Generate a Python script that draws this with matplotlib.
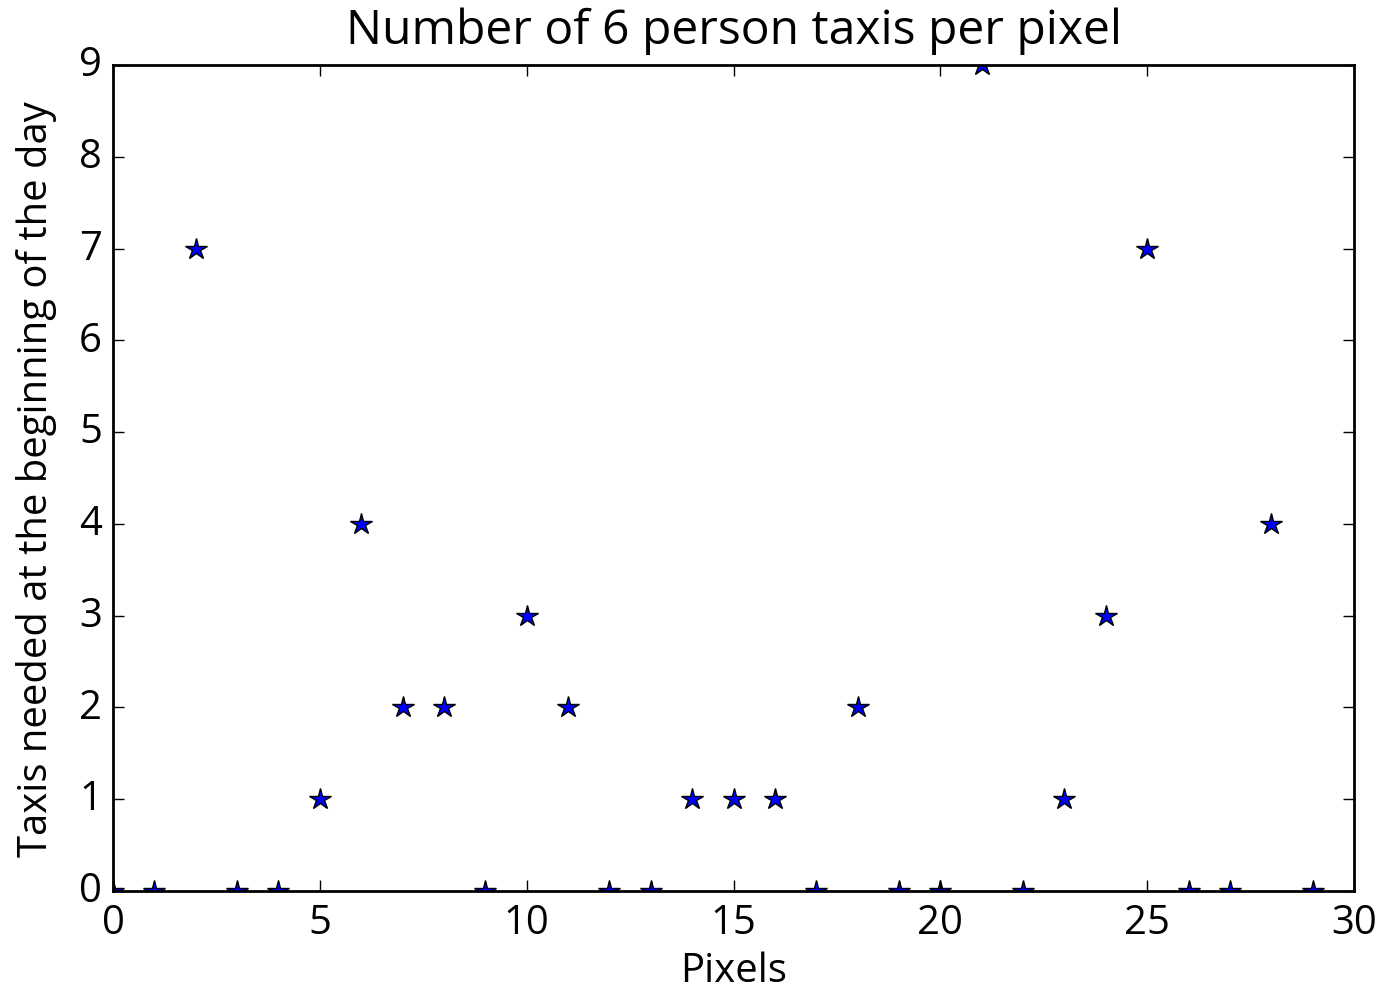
import matplotlib
matplotlib.use('Agg')
import matplotlib.pyplot as plt

# Taxis needed per pixel
pixels = list(range(30))
taxis = [0, 0, 7, 0, 0, 1, 4, 2, 2, 0,
         3, 2, 0, 0, 1, 1, 1, 0, 2, 0,
         0, 9, 0, 1, 3, 7, 0, 0, 4, 0]

plt.style.use('classic')
plt.rcParams['font.family'] = ['Open Sans', 'DejaVu Sans']
plt.rcParams['font.size'] = 14.4

fig = plt.figure(figsize=(6.905, 4.975), dpi=200, facecolor='white')
ax = fig.add_subplot(111)
fig.subplots_adjust(left=0.0818, right=0.9805, top=0.9337, bottom=0.1035)

ax.plot(pixels, taxis, 'b*', markersize=8)

ax.set_xlim(0, 30)
ax.set_ylim(0, 9)
ax.set_title('Number of 6 person taxis per pixel', pad=8)
ax.set_xlabel('Pixels', labelpad=3)
ax.set_ylabel('Taxis needed at the beginning of the day', labelpad=8)

plt.savefig('out.png', dpi=200, facecolor='white')
